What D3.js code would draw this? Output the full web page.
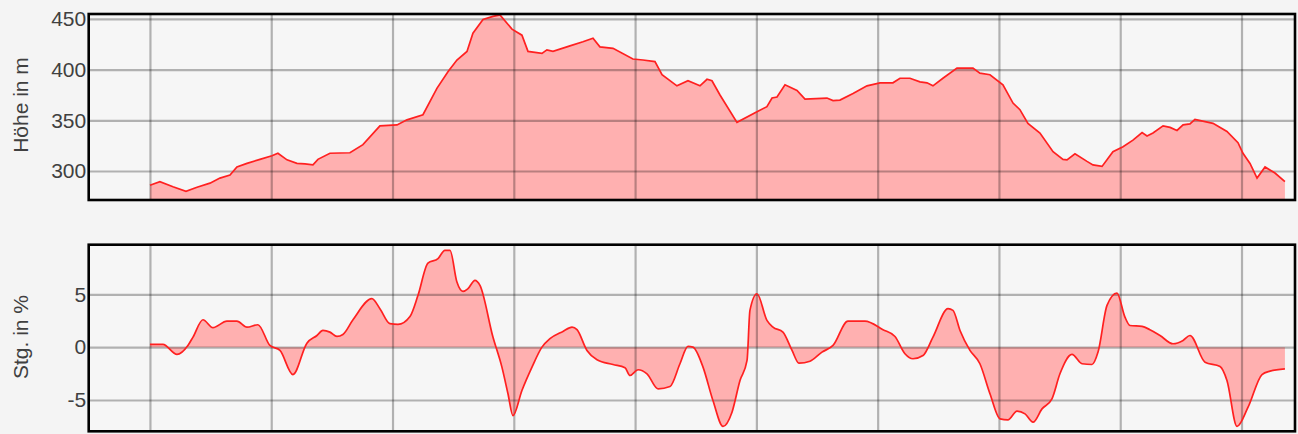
<!DOCTYPE html>
<html><head><meta charset="utf-8">
<script src="https://cdn.jsdelivr.net/npm/d3@7/dist/d3.min.js"></script>
<style>
html,body{margin:0;padding:0;background:#f4f4f4;}
svg{display:block;}
text{font-family:"Liberation Sans",Arial,sans-serif;}
</style></head>
<body>
<svg id="c" width="1298" height="434"></svg>
<script>
// Distance (km) and elevation (m)
const distElev = [0.000,0.082,0.190,0.297,0.388,0.495,0.577,0.660,0.717,0.800,0.907,1.006,1.055,1.130,1.212,1.278,1.344,1.385,1.484,1.649,1.756,1.896,2.037,2.119,2.251,2.366,2.457,2.531,2.614,2.663,2.746,2.828,2.886,2.985,3.067,3.117,3.232,3.273,3.323,3.463,3.570,3.653,3.710,3.818,3.982,4.065,4.164,4.222,4.345,4.436,4.535,4.593,4.634,4.700,4.840,5.005,5.087,5.129,5.170,5.236,5.335,5.401,5.582,5.632,5.689,5.797,5.912,6.019,6.126,6.184,6.266,6.349,6.407,6.456,6.538,6.654,6.786,6.843,6.926,7.033,7.116,7.173,7.239,7.338,7.446,7.528,7.561,7.627,7.726,7.775,7.850,7.940,8.023,8.105,8.180,8.221,8.270,8.353,8.411,8.468,8.518,8.575,8.616,8.765,8.880,8.971,9.012,9.070,9.128,9.194,9.276,9.358];
const elevation = [286,289.5,284.5,280,284,288,293,296,304,307.5,311.5,315,317.5,311,307.5,307,306,311.5,317.5,318,326,344.5,345.5,350.5,355.5,381.5,398,409.5,418,436,449.5,452.5,454,440,434,418,416,419.5,418,423.5,427.5,431,422.5,421,410.5,409.5,408,395,384,389,384,390.5,389,375,348,358.5,363.5,372,373,385,379.5,371,372,369.5,370,376.5,384,387,387,391.5,391.5,388,387,384,391.5,401.5,401.5,396.5,395,385,367,360.5,347,337.5,319,311.5,311,317,309.5,306,304.5,319,324,330.5,338,334.5,337.5,344.5,343,340,345.5,346.5,351,347,339,328,317.5,307.5,293,304,298,289.5];

// Distance (km) and gradient (%)
const distGrad = [0.000,0.107,0.223,0.313,0.355,0.437,0.519,0.635,0.717,0.800,0.890,0.989,1.072,1.179,1.294,1.377,1.426,1.484,1.542,1.591,1.674,1.830,1.896,1.979,2.045,2.144,2.210,2.292,2.375,2.432,2.474,2.531,2.581,2.622,2.680,2.721,2.828,2.902,2.952,2.993,3.067,3.150,3.232,3.298,3.405,3.480,3.521,3.603,3.686,3.818,3.917,3.958,4.024,4.098,4.189,4.288,4.370,4.436,4.477,4.560,4.642,4.725,4.799,4.865,4.923,4.947,5.005,5.087,5.137,5.219,5.294,5.351,5.442,5.541,5.632,5.755,5.895,6.044,6.143,6.225,6.291,6.374,6.456,6.580,6.621,6.679,6.761,6.843,6.926,7.009,7.074,7.149,7.215,7.281,7.355,7.437,7.503,7.602,7.685,7.767,7.817,7.891,7.973,8.039,8.080,8.180,8.245,8.328,8.435,8.518,8.575,8.699,8.823,8.880,8.963,9.054,9.169,9.235,9.358];
const gradient = [0.26,0.26,-0.69,0.16,0.95,2.59,1.84,2.46,2.46,1.89,2.12,0.16,-0.31,-2.59,0.38,1.10,1.58,1.42,1.01,1.20,2.59,4.58,3.64,2.22,2.15,2.90,4.90,7.95,8.37,9.16,9.16,6.16,5.27,5.53,6.32,5.84,0.95,-1.89,-4.41,-6.47,-4.10,-1.89,0.00,0.80,1.49,1.89,1.65,-0.31,-1.19,-1.64,-1.95,-2.68,-2.14,-2.52,-3.94,-3.72,-1.57,0.07,0.00,-1.89,-5.05,-7.50,-6.15,-3.15,-1.26,3.48,5.05,2.53,1.89,1.42,-0.31,-1.52,-1.33,-0.47,0.16,2.46,2.46,1.65,1.01,-0.63,-1.10,-0.79,0.95,3.64,3.48,1.58,-0.30,-1.57,-4.41,-6.78,-6.88,-6.06,-6.31,-7.10,-5.84,-4.89,-2.52,-0.69,-1.57,-1.64,-0.47,3.95,5.11,2.84,2.05,1.96,1.65,1.10,0.32,0.63,1.10,-1.42,-1.83,-3.15,-7.50,-5.68,-2.59,-2.27,-2.05];

const xTicks = [0,1,2,3,4,5,6,7,8,9];
const elevTicks = [300,350,400,450];
const gradTicks = [-5,0,5];
const elevLabel = "Höhe in m";
const gradLabel = "Stg. in %";

const svg = d3.select("#c");
const L = 88.7, R = 1295;
const x = d3.scaleLinear().domain([-0.505, 9.441]).range([L, R]);

function panel(top, bottom, yDomain, ticks, label, labelY, xs, ys, base, curve) {
  const y = d3.scaleLinear().domain(yDomain).range([bottom, top]);
  const g = svg.append("g");
  g.append("rect").attr("x", L).attr("y", top).attr("width", R - L).attr("height", bottom - top).attr("fill", "#f6f6f6");
  const data = xs.map((d, i) => [d, ys[i]]);
  const baseVal = base === null ? yDomain[0] : base;
  g.append("path").datum(data)
    .attr("d", d3.area().x(d => x(d[0])).y0(y(baseVal)).y1(d => y(d[1])).curve(curve))
    .attr("fill", "#ffb0b0");
  // grid
  g.append("g").attr("transform", `translate(0,${bottom})`)
    .call(d3.axisBottom(x).tickValues(xTicks).tickSize(-(bottom - top)).tickFormat(""))
    .call(a => a.select(".domain").remove())
    .selectAll("line").attr("stroke", "rgba(0,0,0,0.28)").attr("stroke-width", 2.2);
  g.append("g").attr("transform", `translate(${L},0)`)
    .call(d3.axisLeft(y).tickValues(ticks).tickSize(-(R - L)).tickFormat(""))
    .call(a => a.select(".domain").remove())
    .selectAll("line").attr("stroke", "rgba(0,0,0,0.28)").attr("stroke-width", 2.2);
  g.append("path").datum(data)
    .attr("d", d3.line().x(d => x(d[0])).y(d => y(d[1])).curve(curve))
    .attr("fill", "none").attr("stroke", "#ff2020").attr("stroke-width", 1.7);
  // tick labels (plain hyphen-minus as in the reference)
  const ax = g.append("g").attr("transform", `translate(${L - 2.5},0)`)
    .call(d3.axisLeft(y).tickValues(ticks).tickSize(0).tickPadding(0).tickFormat(d => String(d)));
  ax.select(".domain").remove();
  ax.selectAll("text").attr("font-size", 21).attr("fill", "#404040")
    .attr("font-family", '"Liberation Sans", Arial, sans-serif');
  // frame
  g.append("rect").attr("x", L).attr("y", top).attr("width", R - L).attr("height", bottom - top)
    .attr("fill", "none").attr("stroke", "#000").attr("stroke-width", 2.6);
  // label
  g.append("text").attr("transform", `translate(28,${labelY}) rotate(-90)`)
    .attr("text-anchor", "middle").attr("font-size", 21).attr("fill", "#404040").text(label);
}

panel(14, 200, [271.4, 454.9], elevTicks, elevLabel, 105, distElev, elevation, null, d3.curveLinear);
panel(244.7, 431.3, [-7.96, 9.69], gradTicks, gradLabel, 337, distGrad, gradient, 0, d3.curveMonotoneX);
</script>
</body></html>
